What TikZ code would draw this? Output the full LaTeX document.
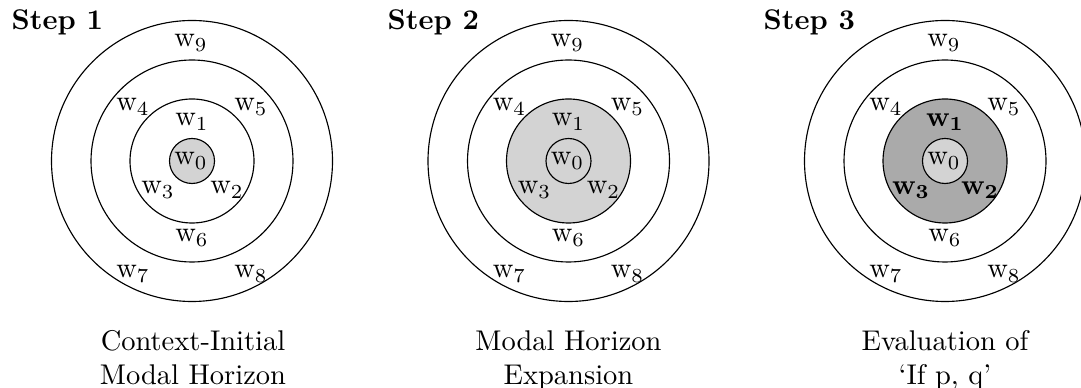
\documentclass[tikz,border=0pt]{standalone}
\definecolor{lightfill}{RGB}{211,211,211}
\definecolor{darkfill}{RGB}{170,170,170}
\newcommand\wl[1]{$\mathrm{w}_{#1}$}
\newcommand\wb[1]{$\mathbf{w_{#1}}$}
\begin{document}
\begin{tikzpicture}[x=0.3509pt,y=-0.3509pt,
  ring/.style={draw=black, line width=0.4pt},
  lbl/.style={inner sep=0pt},
  steplbl/.style={anchor=base west, inner sep=0pt, font=\bfseries},
  capt/.style={anchor=north, align=center, inner sep=0pt}]
\clip (0,0) rectangle (1081,388);

% ---------- Step 1 ----------
\node[steplbl] (s1) at (11,30) {Step 1};
\begin{scope}[shift={(192,161)}]
  \draw[ring] (0,0) circle[radius=140.5];
  \draw[ring] (0,0) circle[radius=101];
  \draw[ring] (0,0) circle[radius=62];
  \draw[ring, fill=lightfill] (0,0) circle[radius=22.5];
  \node[lbl] (a0) at (-1,0) {\wl0};
  \node[lbl] (a1) at (0,-39) {\wl1};
  \node[lbl] (a2) at (35,29) {\wl2};
  \node[lbl] (a3) at (-34,29) {\wl3};
  \node[lbl] (a4) at (-59,-54) {\wl4};
  \node[lbl] (a5) at (59,-54) {\wl5};
  \node[lbl] (a6) at (0,77) {\wl6};
  \node[lbl] (a7) at (-59,113) {\wl7};
  \node[lbl] (a8) at (59,113) {\wl8};
  \node[lbl] (a9) at (-1,-118) {\wl9};
  \node[capt] (c1) at (1,169) {Context-Initial\\Modal Horizon};
\end{scope}

% ---------- Step 2 ----------
\node[steplbl] (s2) at (387,30) {Step 2};
\begin{scope}[shift={(568.5,161)}]
  \draw[ring] (0,0) circle[radius=140.5];
  \draw[ring] (0,0) circle[radius=101];
  \draw[ring, fill=lightfill] (0,0) circle[radius=62];
  \draw[ring] (0,0) circle[radius=22.5];
  \node[lbl] (b0) at (-1,0) {\wl0};
  \node[lbl] (b1) at (0,-39) {\wl1};
  \node[lbl] (b2) at (35,29) {\wl2};
  \node[lbl] (b3) at (-34,29) {\wl3};
  \node[lbl] (b4) at (-59,-54) {\wl4};
  \node[lbl] (b5) at (59,-54) {\wl5};
  \node[lbl] (b6) at (0,77) {\wl6};
  \node[lbl] (b7) at (-59,113) {\wl7};
  \node[lbl] (b8) at (59,113) {\wl8};
  \node[lbl] (b9) at (-1,-118) {\wl9};
  \node[capt] (c2) at (0,169) {Modal Horizon\\Expansion};
\end{scope}

% ---------- Step 3 ----------
\node[steplbl] (s3) at (763,30) {Step 3};
\begin{scope}[shift={(945,161)}]
  \draw[ring] (0,0) circle[radius=140.5];
  \draw[ring] (0,0) circle[radius=101];
  \draw[ring, fill=darkfill] (0,0) circle[radius=62];
  \draw[ring, fill=lightfill] (0,0) circle[radius=22.5];
  \node[lbl] (d0) at (-1,0) {\wl0};
  \node[lbl] (d1) at (0,-39) {\wb1};
  \node[lbl] (d2) at (35,29) {\wb2};
  \node[lbl] (d3) at (-34,29) {\wb3};
  \node[lbl] (d4) at (-59,-54) {\wl4};
  \node[lbl] (d5) at (59,-54) {\wl5};
  \node[lbl] (d6) at (0,77) {\wl6};
  \node[lbl] (d7) at (-59,113) {\wl7};
  \node[lbl] (d8) at (59,113) {\wl8};
  \node[lbl] (d9) at (-1,-118) {\wl9};
  \node[capt] (c3) at (0,169) {Evaluation of\\`If p, q'};
\end{scope}
\end{tikzpicture}
\end{document}
